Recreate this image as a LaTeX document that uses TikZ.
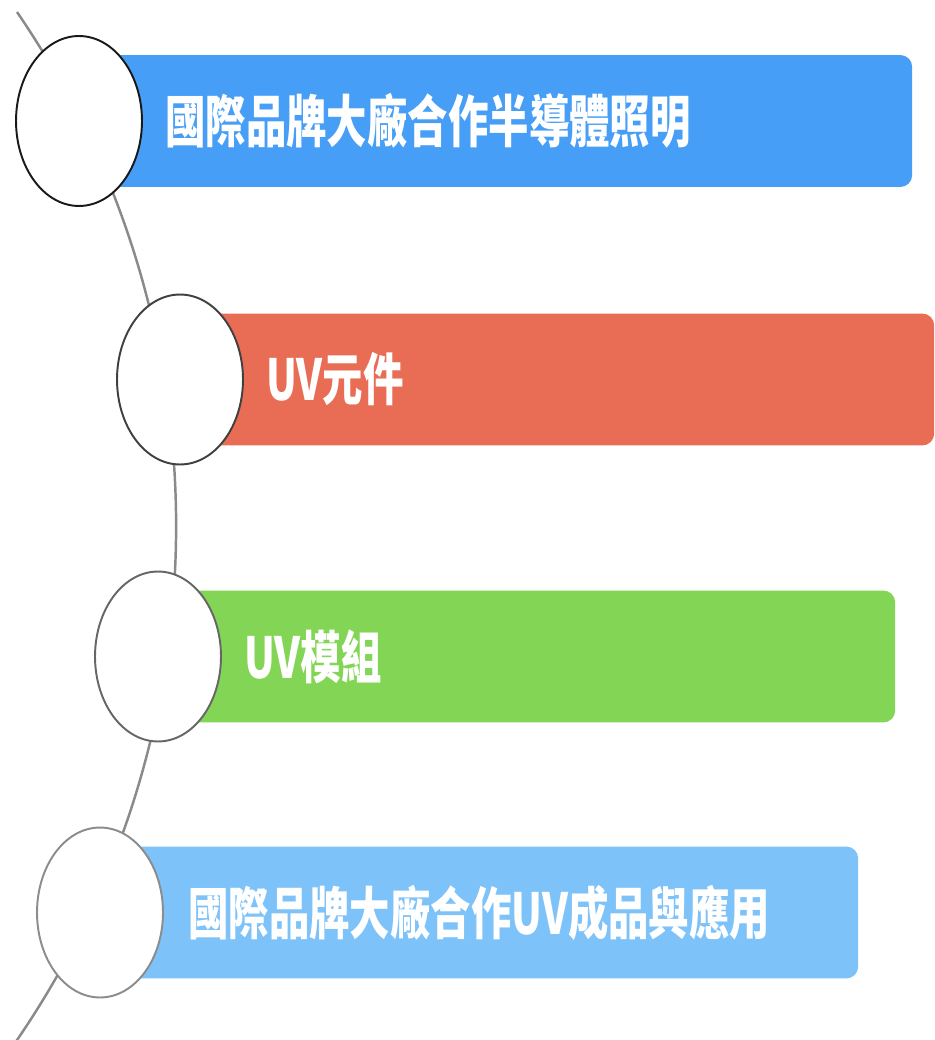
\documentclass[tikz,border=0pt]{standalone}
\usepackage{fontspec}
\newfontfamily\cjk{Noto Sans CJK TC}
\usepackage{graphicx}
\usepackage{tikz}
\usetikzlibrary{positioning}
\usetikzlibrary{shapes.geometric}

\definecolor{barblue}{HTML}{479EF6}
\definecolor{barred}{HTML}{E96D55}
\definecolor{bargreen}{HTML}{83D555}
\definecolor{barsky}{HTML}{7DC2F8}
\definecolor{spine}{HTML}{8A8A8A}

\newcommand{\tall}[1]{\scalebox{1}[1.4]{#1}}

\begin{document}
\begin{tikzpicture}[
  x=0.02cm, y=-0.02cm,
  node distance=1.72cm,
  bar/.style={rounded corners=0.24cm, minimum height=2.64cm, anchor=west, inner sep=0pt},
  dot/.style={ellipse, fill=white, line width=1.1pt, minimum width=2.52cm, minimum height=3.4cm, inner sep=0pt},
  lbl/.style={text=white, inner sep=0pt, font=\cjk\bfseries\fontsize{23}{27}\selectfont}
]
\useasboundingbox (0,0) rectangle (934,1040);
\clip (0,0) rectangle (934,1040);

% spine behind everything
\coordinate (hub) at (-733,526);
\draw[spine, line width=1.4pt] (17,12) arc[start angle=34.4, end angle=-36, radius=18.2cm];

% bars
\node[bar, fill=barblue, minimum width=16.66cm] (bar1) at (79,121) {};
\node[bar, fill=barred, minimum width=15.08cm] (bar2) at (180,379.5) {};
\node[bar, fill=bargreen, minimum width=14.74cm] (bar3) at (158,656.5) {};
\node[bar, fill=barsky, minimum width=15.16cm] (bar4) at (100,912.5) {};

% circles
\node[dot, draw=black!90] (c1) at (bar1.west) {};
\node[dot, draw=black!75] (c2) at (bar2.west) {};
\node[dot, draw=black!60] (c3) at (bar3.west) {};
\node[dot, draw=black!45] (c4) at (bar4.west) {};

% labels
\node[lbl, right=of bar1.west] (t1) {\tall{國際品牌大廠合作半導體照明}};
\node[lbl, right=of bar2.west] (t2) {\tall{UV元件}};
\node[lbl, right=of bar3.west] (t3) {\tall{UV模組}};
\node[lbl, right=1.76cm of bar4.west] (t4) {\tall{國際品牌大廠合作UV成品與應用}};

\end{tikzpicture}
\end{document}
